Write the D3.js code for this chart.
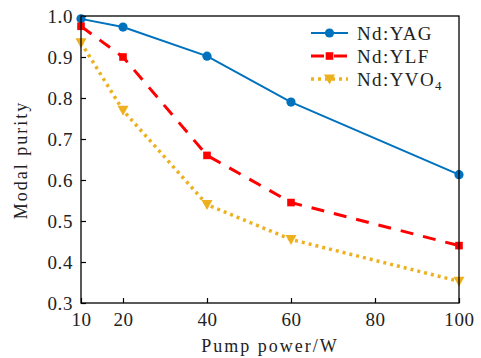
<!DOCTYPE html>
<html>
<head>
<meta charset="utf-8">
<script src="https://cdn.jsdelivr.net/npm/d3@7"></script>
<style>
body{margin:0;background:#fff;}
text{font-family:"Liberation Serif","DejaVu Serif",serif;fill:#222;}
</style>
</head>
<body>
<svg id="chart" width="481" height="358"></svg>
<script>
// data
var power = [10, 20, 40, 60, 100];
var yag = [0.993, 0.973, 0.902, 0.790, 0.613];
var ylf = [0.975, 0.900, 0.660, 0.545, 0.440];
var yvo = [0.935, 0.770, 0.540, 0.455, 0.353];
var xTicks = [10, 20, 40, 60, 80, 100];
var yTicks = [0.3, 0.4, 0.5, 0.6, 0.7, 0.8, 0.9, 1.0];

var svg = d3.select('#chart');
var m = {l:81, r:459, t:16, b:303};

var x = d3.scaleLinear().domain([10, 100]).range([m.l, m.r]);
var y = d3.scaleLinear().domain([0.3, 1.0]).range([m.b, m.t]);

//axes with inward ticks
svg.append('g')
	.attr('transform','translate(0,'+m.b+')')
	.call(d3.axisBottom(x).tickValues(xTicks).tickSize(-5).tickPadding(10).tickFormat(d3.format('d')))
	.call(function(g){g.select('.domain').remove();});
svg.append('g')
	.attr('transform','translate('+m.l+',0)')
	.call(d3.axisLeft(y).tickValues(yTicks).tickSize(-5).tickPadding(8).tickFormat(d3.format('.1f')))
	.call(function(g){g.select('.domain').remove();});
svg.selectAll('.tick line').attr('stroke','#000').attr('stroke-width',1.2);
svg.selectAll('.tick text').style('font-size','19px').style('letter-spacing','0.6px').attr('fill','#222');

var series = [
	{name:'Nd:YAG', vals:yag, color:'#0072BD', dash:null, w:2, shape:'circle'},
	{name:'Nd:YLF', vals:ylf, color:'#FF0000', dash:'13,10', w:3, shape:'square'},
	{name:'Nd:YVO', sub:'4', vals:yvo, color:'#EDB120', dash:'3,4', w:3.5, shape:'tri'}
];

function marker(g, s, cx, cy){
	if (s.shape=='circle'){
		g.append('circle').attr('cx',cx).attr('cy',cy).attr('r',4.6).attr('fill',s.color);
	} else if (s.shape=='square'){
		g.append('rect').attr('x',cx-3.8).attr('y',cy-3.8).attr('width',7.6).attr('height',7.6).attr('fill',s.color);
	} else {
		g.append('path').attr('d','M'+(cx-5.5)+','+(cy-4.5)+'L'+(cx+5.5)+','+(cy-4.5)+'L'+cx+','+(cy+5.5)+'Z').attr('fill',s.color);
	}
}

var line = d3.line().x(function(d){return x(d[0]);}).y(function(d){return y(d[1]);});
var plot = svg.append('g');
series.forEach(function(s){
	var pts = power.map(function(p,i){return [p, s.vals[i]];});
	plot.append('path')
		.attr('d', line(pts))
		.attr('fill','none')
		.attr('stroke', s.color)
		.attr('stroke-width', s.w)
		.attr('stroke-dasharray', s.dash);
	pts.forEach(function(p){ marker(plot, s, x(p[0]), y(p[1])); });
});

//frame
svg.append('rect').attr('x',m.l).attr('y',m.t).attr('width',m.r-m.l).attr('height',m.b-m.t)
	.attr('fill','none').attr('stroke','#000').attr('stroke-width',1.3);

//legend
series.forEach(function(s,i){
	var ly = 33 + i*23;
	var g = svg.append('g');
	g.append('line').attr('x1',311).attr('x2',348).attr('y1',ly).attr('y2',ly)
		.attr('stroke',s.color).attr('stroke-width',s.w).attr('stroke-dasharray', s.dash);
	marker(g, s, 329.5, ly);
	var t = g.append('text').attr('x',357).attr('y',ly+6.5).style('font-size','19px').style('letter-spacing','1.4px').text(s.name);
	if (s.sub) t.append('tspan').attr('dy',4).style('font-size','13px').text(s.sub);
});

//axis titles
svg.append('text').attr('x',270).attr('y',352).attr('text-anchor','middle')
	.style('font-size','18px').style('letter-spacing','2px').text('Pump power/W');
svg.append('text').attr('transform','translate(27,160) rotate(-90)').attr('text-anchor','middle')
	.style('font-size','18px').style('letter-spacing','2px').text('Modal purity');
</script>
</body>
</html>
